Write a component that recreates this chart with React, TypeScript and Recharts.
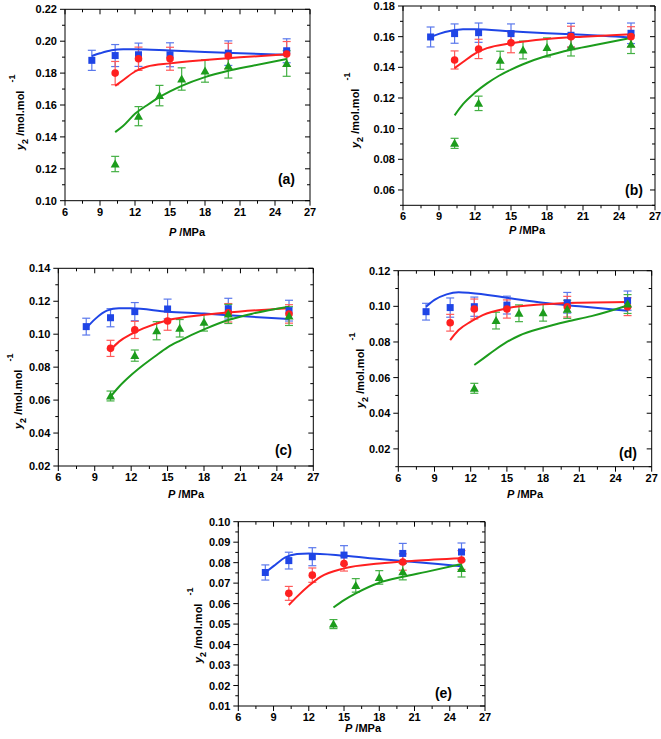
import { ComposedChart, Scatter, Line, XAxis, YAxis, ErrorBar } from 'recharts'

const FONT = "'Liberation Sans', Arial, Helvetica, sans-serif"
const BLUE = '#1f45e6'
const RED = '#ff2020'
const GREEN = '#1c9c1c'
const BLUE_ERR = '#5a78ec'
const RED_ERR = '#ff5a5a'
const GREEN_ERR = '#44b044'

// pressures of the measured points (MPa)
const pBlue = [8.3, 10.3, 12.3, 15, 20, 25]
const pRed = [10.3, 12.3, 15, 20, 25]
const pGreen = [10.3, 12.3, 14.1, 16, 18, 20, 25]
const pGreenD = [12.3, 14.1, 16, 18, 20, 25]
const pGreenE = [14.1, 16, 18, 20, 25]

// pressures where the model curves were read
const fBlue = [8.3, 9, 10, 11, 12, 15, 18, 21, 25]
const fRed = [10.3, 11, 12, 13, 15, 18, 21, 25]
const fGreen = [10.3, 11, 12, 13, 14, 15, 16, 18, 20, 22, 25]
const fGreenD = [12.3, 13, 14, 15, 16, 18, 20, 22, 25]
const fGreenE = [14.1, 15, 16, 18, 20, 22, 25]

// (a)
const aBlue = [0.188, 0.191, 0.1915, 0.1915, 0.1925, 0.194]
const aBlueErr = [0.0063, 0.0069, 0.0073, 0.0075, 0.0077, 0.0075]
const aRed = [0.18, 0.189, 0.189, 0.1907, 0.192]
const aRedErr = [0.0073, 0.0073, 0.0072, 0.008, 0.0078]
const aGreen = [0.123, 0.153, 0.1659, 0.1763, 0.1813, 0.1845, 0.186]
const aGreenErr = [0.0048, 0.006, 0.0064, 0.007, 0.007, 0.0076, 0.008]
const aBlueFit = [0.1907, 0.1924, 0.1943, 0.1949, 0.1949, 0.1941, 0.1932, 0.1924, 0.1915]
const aRedFit = [0.172, 0.1757, 0.181, 0.184, 0.1861, 0.1882, 0.1899, 0.1918]
const aGreenFit = [0.143, 0.147, 0.1545, 0.1597, 0.1645, 0.1685, 0.172, 0.1775, 0.1815, 0.1845, 0.1888]

// (b)
const bBlue = [0.1598, 0.162, 0.1626, 0.162, 0.1609, 0.1622]
const bBlueErr = [0.0065, 0.0063, 0.0063, 0.0063, 0.0078, 0.0067]
const bRed = [0.1448, 0.152, 0.156, 0.16, 0.16]
const bRedErr = [0.0059, 0.0063, 0.0065, 0.0068, 0.0065]
const bGreen = [0.0904, 0.1165, 0.1446, 0.1513, 0.153, 0.1535, 0.155]
const bGreenErr = [0.0033, 0.0047, 0.0059, 0.0058, 0.0062, 0.0061, 0.006]
const bBlueFit = [0.1598, 0.1618, 0.1638, 0.1648, 0.1648, 0.1635, 0.1622, 0.1613, 0.1595]
const bRedFit = [0.1395, 0.1435, 0.149, 0.1525, 0.1557, 0.1585, 0.16, 0.1615]
const bGreenFit = [0.1087, 0.116, 0.1235, 0.1295, 0.1345, 0.1385, 0.142, 0.1475, 0.1515, 0.1545, 0.1592]

// (c)
const cBlue = [0.1046, 0.11, 0.1137, 0.1153, 0.1155, 0.1143]
const cBlueErr = [0.0051, 0.0055, 0.0055, 0.006, 0.0063, 0.0063]
const cRed = [0.0914, 0.1026, 0.108, 0.113, 0.1123]
const cRedErr = [0.0049, 0.0052, 0.0056, 0.0056, 0.0056]
const cGreen = [0.0625, 0.087, 0.1021, 0.1036, 0.1072, 0.1123, 0.111]
const cGreenErr = [0.003, 0.0034, 0.0055, 0.0053, 0.0053, 0.0058, 0.0057]
const cBlueFit = [0.1036, 0.109, 0.1143, 0.1157, 0.1157, 0.1137, 0.1125, 0.111, 0.1092]
const cRedFit = [0.0904, 0.0955, 0.1, 0.1035, 0.1085, 0.1118, 0.1138, 0.1158]
const cGreenFit = [0.0621, 0.0681, 0.0752, 0.0813, 0.0868, 0.092, 0.096, 0.1029, 0.1086, 0.1125, 0.1167]

// (d)
const dBlue = [0.097, 0.0993, 0.0998, 0.1007, 0.102, 0.1032]
const dBlueErr = [0.0047, 0.0054, 0.0054, 0.005, 0.0058, 0.0054]
const dRed = [0.0908, 0.0985, 0.0985, 0.0998, 0.0998]
const dRedErr = [0.0047, 0.0056, 0.0051, 0.0058, 0.005]
const dGreen = [0.054, 0.092, 0.0961, 0.0964, 0.0983, 0.1013]
const dGreenErr = [0.0028, 0.0047, 0.0047, 0.0047, 0.0051, 0.0053]
const dBlueFit = [0.0998, 0.1036, 0.1067, 0.1079, 0.1075, 0.1048, 0.102, 0.1, 0.0975]
const dRedFit = [0.0811, 0.0867, 0.0914, 0.0951, 0.0989, 0.1011, 0.102, 0.1024]
const dGreenFit = [0.0671, 0.0705, 0.0755, 0.08, 0.0835, 0.088, 0.0915, 0.0945, 0.1005]

// (e)
const eBlue = [0.0752, 0.081, 0.0829, 0.0837, 0.0845, 0.0852]
const eBlueErr = [0.0037, 0.0041, 0.0044, 0.0046, 0.0049, 0.0044]
const eRed = [0.065, 0.0739, 0.0796, 0.0803, 0.0813]
const eRedErr = [0.0034, 0.0035, 0.0037, 0.004, 0.0046]
const eGreen = [0.05, 0.0689, 0.0728, 0.0756, 0.0772]
const eGreenErr = [0.0022, 0.0033, 0.0033, 0.004, 0.0042]
const eBlueFit = [0.0752, 0.0783, 0.0826, 0.0842, 0.0845, 0.0834, 0.0818, 0.0803, 0.0783]
const eRedFit = [0.0593, 0.0634, 0.0687, 0.0731, 0.0772, 0.0796, 0.0809, 0.0821]
const eGreenFit = [0.0581, 0.0617, 0.065, 0.0702, 0.0731, 0.0755, 0.0793]

// ticks
const xTicks = [6, 7.5, 9, 10.5, 12, 13.5, 15, 16.5, 18, 19.5, 21, 22.5, 24, 25.5, 27]
const yTicksA = [0.10, 0.11, 0.12, 0.13, 0.14, 0.15, 0.16, 0.17, 0.18, 0.19, 0.20, 0.21, 0.22]
const yTicksB = [0.05, 0.06, 0.07, 0.08, 0.09, 0.10, 0.11, 0.12, 0.13, 0.14, 0.15, 0.16, 0.17, 0.18]
const yTicksC = [0.02, 0.03, 0.04, 0.05, 0.06, 0.07, 0.08, 0.09, 0.10, 0.11, 0.12, 0.13, 0.14]
const yTicksD = [0.01, 0.02, 0.03, 0.04, 0.05, 0.06, 0.07, 0.08, 0.09, 0.10, 0.11, 0.12]
const yTicksE = [0.01, 0.015, 0.02, 0.025, 0.03, 0.035, 0.04, 0.045, 0.05, 0.055, 0.06, 0.065, 0.07, 0.075, 0.08, 0.085, 0.09, 0.095, 0.10]

const pts = (xs: number[], ys: number[], es?: number[]) => xs.map((x, i) => ({ x, y: ys[i], err: es ? es[i] : 0 }))

interface Box { x: number; y: number; w: number; h: number }
interface Plot { l: number; r: number; t: number; b: number }
interface PanelCfg {
  box: Box; plot: Plot; yDomain: [number, number]; yTicks: number[]; yStep: number
  blue: number[]; blueErr: number[]; red: number[]; redErr: number[]
  green: number[]; greenErr: number[]; pG: number[]
  blueFit: number[]; redFit: number[]; greenFit: number[]; fG: number[]
}

const panels: PanelCfg[] = [
  { box: { x: 0, y: 0, w: 330, h: 245 }, plot: { l: 65, r: 310, t: 9.3, b: 200.7 }, yDomain: [0.10, 0.22], yTicks: yTicksA, yStep: 0.02,
    blue: aBlue, blueErr: aBlueErr, red: aRed, redErr: aRedErr, green: aGreen, greenErr: aGreenErr, pG: pGreen,
    blueFit: aBlueFit, redFit: aRedFit, greenFit: aGreenFit, fG: fGreen },
  { box: { x: 330, y: 0, w: 331, h: 245 }, plot: { l: 403, r: 655, t: 6, b: 205.3 }, yDomain: [0.05, 0.18], yTicks: yTicksB, yStep: 0.02,
    blue: bBlue, blueErr: bBlueErr, red: bRed, redErr: bRedErr, green: bGreen, greenErr: bGreenErr, pG: pGreen,
    blueFit: bBlueFit, redFit: bRedFit, greenFit: bGreenFit, fG: fGreen },
  { box: { x: 0, y: 245, w: 330, h: 255 }, plot: { l: 58.3, r: 313.3, t: 268.3, b: 466 }, yDomain: [0.02, 0.14], yTicks: yTicksC, yStep: 0.02,
    blue: cBlue, blueErr: cBlueErr, red: cRed, redErr: cRedErr, green: cGreen, greenErr: cGreenErr, pG: pGreen,
    blueFit: cBlueFit, redFit: cRedFit, greenFit: cGreenFit, fG: fGreen },
  { box: { x: 330, y: 245, w: 331, h: 255 }, plot: { l: 398.3, r: 651.7, t: 270.7, b: 466.7 }, yDomain: [0.01, 0.12], yTicks: yTicksD, yStep: 0.02,
    blue: dBlue, blueErr: dBlueErr, red: dRed, redErr: dRedErr, green: dGreen, greenErr: dGreenErr, pG: pGreenD,
    blueFit: dBlueFit, redFit: dRedFit, greenFit: dGreenFit, fG: fGreenD },
  { box: { x: 165, y: 500, w: 330, h: 239 }, plot: { l: 238.3, r: 485, t: 521.7, b: 706 }, yDomain: [0.01, 0.10], yTicks: yTicksE, yStep: 0.01,
    blue: eBlue, blueErr: eBlueErr, red: eRed, redErr: eRedErr, green: eGreen, greenErr: eGreenErr, pG: pGreenE,
    blueFit: eBlueFit, redFit: eRedFit, greenFit: eGreenFit, fG: fGreenE },
]

// axis titles and panel letters: x-title (centre, baseline), y-title (baseline x, start y), letter (right x, baseline)
const labelPos = [
  { xl: [187, 236], yl: [24, 150], letter: '(a)', lt: [295, 184] },
  { xl: [527, 234], yl: [359, 148], letter: '(b)', lt: [643, 195] },
  { xl: [186, 498], yl: [22, 429], letter: '(c)', lt: [292, 455] },
  { xl: [525, 498], yl: [364, 408], letter: '(d)', lt: [637, 458] },
  { xl: [363, 732], yl: [202, 663], letter: '(e)', lt: [452, 698] },
]

const isMajorX = (v: number) => Math.abs(v / 3 - Math.round(v / 3)) < 1e-6
const txt = { fontFamily: FONT, fontWeight: 'bold' as const, fontSize: 11, fill: '#000' }

function BottomTick(p: any) {
  const major = isMajorX(p.payload.value)
  return (
    <g>
      <line x1={p.x} y1={p.y} x2={p.x} y2={p.y + (major ? 5 : 3)} stroke="#000" />
      {major && <text x={p.x} y={p.y + 15} textAnchor="middle" {...txt}>{p.payload.value}</text>}
    </g>
  )
}
function TopTick(p: any) {
  const major = isMajorX(p.payload.value)
  return <line x1={p.x} y1={p.y} x2={p.x} y2={p.y + (major ? 5 : 3)} stroke="#000" />
}
const majorY = (v: number, step: number) => Math.round(v * 1000) % Math.round(step * 1000) === 0
const leftTick = (step: number) => (p: any) => {
  const major = majorY(p.payload.value, step)
  return (
    <g>
      <line x1={p.x} y1={p.y} x2={p.x - (major ? 5 : 3)} y2={p.y} stroke="#000" />
      {major && <text x={p.x - 8} y={p.y + 4} textAnchor="end" {...txt}>{p.payload.value.toFixed(2)}</text>}
    </g>
  )
}
const rightTick = (step: number) => (p: any) => {
  const major = majorY(p.payload.value, step)
  return <line x1={p.x} y1={p.y} x2={p.x - (major ? 5 : 3)} y2={p.y} stroke="#000" />
}

const square = (c: string) => (p: any) => <rect x={p.cx - 3.5} y={p.cy - 3.5} width={7} height={7} fill={c} />
const circle = (c: string) => (p: any) => <circle cx={p.cx} cy={p.cy} r={3.8} fill={c} />
const triangle = (c: string) => (p: any) => (
  <path d={`M${p.cx},${p.cy - 4.5}L${p.cx + 4.5},${p.cy + 3.5}L${p.cx - 4.5},${p.cy + 3.5}Z`} fill={c} />
)

function Panel({ cfg }: { cfg: PanelCfg }) {
  const { box, plot } = cfg
  const margin = { top: plot.t - box.y - 1, right: box.x + box.w - plot.r - 1, left: 0, bottom: 0 }
  const axisLine = { stroke: '#000', strokeWidth: 1 }
  return (
    <div style={{ position: 'absolute', left: box.x, top: box.y }}>
      <ComposedChart width={box.w} height={box.h} margin={margin}>
        <XAxis dataKey="x" type="number" domain={[6, 27]} ticks={xTicks} interval={0} allowDataOverflow
          height={box.y + box.h - plot.b} tickSize={0} tickMargin={0} tickLine={false} axisLine={axisLine} tick={BottomTick} />
        <XAxis xAxisId="t" orientation="top" dataKey="x" type="number" domain={[6, 27]} ticks={xTicks} interval={0} allowDataOverflow
          height={1} tickSize={0} tickMargin={0} tickLine={false} axisLine={axisLine} tick={TopTick} />
        <YAxis type="number" domain={cfg.yDomain} ticks={cfg.yTicks} interval={0} allowDataOverflow
          width={plot.l - box.x} tickSize={0} tickMargin={0} tickLine={false} axisLine={axisLine} tick={leftTick(cfg.yStep)} />
        <YAxis yAxisId="r" orientation="right" type="number" domain={cfg.yDomain} ticks={cfg.yTicks} interval={0} allowDataOverflow
          width={1} tickSize={0} tickMargin={0} tickLine={false} axisLine={axisLine} tick={rightTick(cfg.yStep)} />

        <Scatter data={pts(pBlue, cfg.blue, cfg.blueErr)} dataKey="y" shape={square(BLUE)} isAnimationActive={false}>
          <ErrorBar dataKey="err" direction="y" width={4} stroke={BLUE_ERR} strokeWidth={1.2} isAnimationActive={false} />
        </Scatter>
        <Scatter data={pts(pRed, cfg.red, cfg.redErr)} dataKey="y" shape={circle(RED)} isAnimationActive={false}>
          <ErrorBar dataKey="err" direction="y" width={4} stroke={RED_ERR} strokeWidth={1.2} isAnimationActive={false} />
        </Scatter>
        <Scatter data={pts(cfg.pG, cfg.green, cfg.greenErr)} dataKey="y" shape={triangle(GREEN)} isAnimationActive={false}>
          <ErrorBar dataKey="err" direction="y" width={4} stroke={GREEN_ERR} strokeWidth={1.2} isAnimationActive={false} />
        </Scatter>

        <Line data={pts(fBlue, cfg.blueFit)} dataKey="y" type="monotone" stroke={BLUE} strokeWidth={2} dot={false} isAnimationActive={false} />
        <Line data={pts(fRed, cfg.redFit)} dataKey="y" type="monotone" stroke={RED} strokeWidth={2} dot={false} isAnimationActive={false} />
        <Line data={pts(cfg.fG, cfg.greenFit)} dataKey="y" type="monotone" stroke={GREEN} strokeWidth={2} dot={false} isAnimationActive={false} />
      </ComposedChart>
    </div>
  )
}

export default function App() {
  return (
    <div style={{ position: 'absolute', left: 0, top: 0, width: 661, height: 739, background: '#fff' }}>
      {panels.map((cfg, i) => <Panel key={i} cfg={cfg} />)}
      <svg width={661} height={739} style={{ position: 'absolute', left: 0, top: 0, pointerEvents: 'none' }}>
        {labelPos.map((l, i) => (
          <g key={i}>
            <text x={l.xl[0]} y={l.xl[1]} textAnchor="middle" {...txt}>
              <tspan fontStyle="italic">P</tspan> /MPa
            </text>
            <text transform={`translate(${l.yl[0]},${l.yl[1]}) rotate(-90)`} {...txt}>
              <tspan fontStyle="italic">y</tspan>
              <tspan dy={4} fontSize={9}>2</tspan>
              <tspan dy={-4}> /mol.mol</tspan>
              <tspan dx={8} dy={-9} fontSize={9}>-1</tspan>
            </text>
            <text x={l.lt[0]} y={l.lt[1]} textAnchor="end" {...txt} fontSize={14}>{l.letter}</text>
          </g>
        ))}
      </svg>
    </div>
  )
}
